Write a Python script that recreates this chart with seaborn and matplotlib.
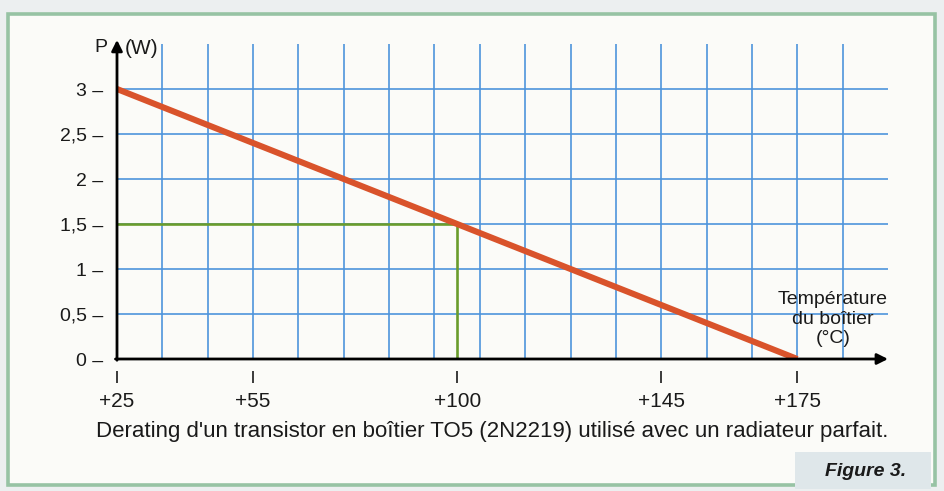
import matplotlib
matplotlib.use("Agg")
import matplotlib.pyplot as plt
from matplotlib.patches import Rectangle
import seaborn as sns
import pandas as pd

# Derating curve data
temp_c = [25, 175]
power_w = [3.0, 0.0]

# Reading example at 100 °C -> 1.5 W
read_temp = [25, 100, 100]
read_power = [1.5, 1.5, 0.0]

x_ticks = [25, 55, 100, 145, 175]
x_labels = ["+25", "+55", "+100", "+145", "+175"]
y_ticks = [0, 0.5, 1, 1.5, 2, 2.5, 3]
y_labels = ["0 –", "0,5 –", "1 –", "1,5 –", "2 –", "2,5 –", "3 –"]
grid_x = list(range(35, 190, 10))
grid_y = [0.5, 1.0, 1.5, 2.0, 2.5, 3.0]

sns.set_theme(style="white")
plt.rcParams["font.family"] = ["Liberation Sans", "DejaVu Sans"]

W, H = 944, 491
fig = plt.figure(figsize=(W / 100, H / 100), dpi=100, facecolor="#eceff0")

# panel with green border
fig.patches.append(Rectangle((8 / W, (H - 485) / H), (935 - 8) / W, (485 - 14) / H,
                             transform=fig.transFigure, facecolor="#fbfbf8",
                             edgecolor="#97c3a4", linewidth=2.6, zorder=-2))
# "Figure 3." tab
fig.patches.append(Rectangle((795 / W, (H - 489) / H), (931 - 795) / W, (489 - 452) / H,
                             transform=fig.transFigure, facecolor="#dfe7ea",
                             edgecolor="none", zorder=-1))

ax = fig.add_axes([117 / W, 132 / H, (888 - 117) / W, 315 / H])
ax.set_zorder(2)
ax.set_facecolor("none")
ax.set_xlim(25, 195)
ax.set_ylim(0, 3.5)

# blue grid (minor locations may coincide with labelled ones)
ax.xaxis.remove_overlapping_locs = False
ax.yaxis.remove_overlapping_locs = False
ax.set_xticks(grid_x, minor=True)
ax.set_yticks(grid_y, minor=True)
ax.grid(which="minor", color="#4d94dc", linewidth=1.2)
ax.grid(which="major", visible=False)

df_line = pd.DataFrame({"T": temp_c, "P": power_w})
df_read = pd.DataFrame({"T": read_temp, "P": read_power})
sns.lineplot(data=df_read, x="T", y="P", sort=False, estimator=None,
             color="#6a9c2c", linewidth=1.9, ax=ax, zorder=3)
sns.lineplot(data=df_line, x="T", y="P", sort=False, estimator=None,
             color="#d9532b", linewidth=4.4, ax=ax, zorder=4,
             solid_capstyle="butt")
ax.set_xlabel("")
ax.set_ylabel("")

for s in ax.spines.values():
    s.set_visible(False)

# axes with arrowheads
arrow = dict(arrowstyle="-|>", color="black", lw=2.0, shrinkA=0, shrinkB=0,
             mutation_scale=16)
ax.annotate("", xy=(1.0, 0), xytext=(-0.002, 0), xycoords="axes fraction",
            arrowprops=arrow, zorder=5, annotation_clip=False)
ax.annotate("", xy=(0, 1.013), xytext=(0, -0.004), xycoords="axes fraction",
            arrowprops=arrow, zorder=5, annotation_clip=False)

ax.set_xticks(x_ticks)
ax.set_xticklabels(x_labels)
ax.set_yticks(y_ticks)
ax.set_yticklabels(y_labels)
ax.tick_params(axis="both", which="both", length=0)
ax.tick_params(axis="x", which="major", pad=24, labelsize=15, colors="#1a1a1a")
ax.tick_params(axis="y", which="major", pad=10, labelsize=14, colors="#1a1a1a")

# small detached tick marks below the x axis
xt = ax.get_xaxis_transform()
ax.plot(x_ticks, [-0.057] * len(x_ticks), transform=xt, ls="none", marker="|",
        markersize=8, markeredgewidth=1.2, color="#1a1a1a", clip_on=False)

# axis titles
fig.text(107 / W, (H - 48) / H, "P", ha="right", va="center", fontsize=14,
         color="#1a1a1a")
fig.text(125 / W, (H - 48) / H, "(W)", ha="left", va="center", fontsize=15,
         color="#1a1a1a")
fig.text(833 / W, (H - 319) / H, "Température\ndu boîtier\n(°C)", ha="center",
         va="center", fontsize=14, linespacing=1.22, color="#1a1a1a")

fig.text(492 / W, (H - 432) / H,
         "Derating d'un transistor en boîtier TO5 (2N2219) utilisé avec un radiateur parfait.",
         ha="center", va="center", fontsize=16, color="#1a1a1a")
fig.text(866 / W, (H - 471) / H, "Figure 3.", ha="center", va="center",
         fontsize=14, fontstyle="italic", fontweight="bold", fontstretch="condensed",
         family=["Liberation Sans Narrow", "Liberation Sans", "DejaVu Sans"],
         color="#1a1a1a")

fig.savefig("out.png", dpi=100, facecolor=fig.get_facecolor())
